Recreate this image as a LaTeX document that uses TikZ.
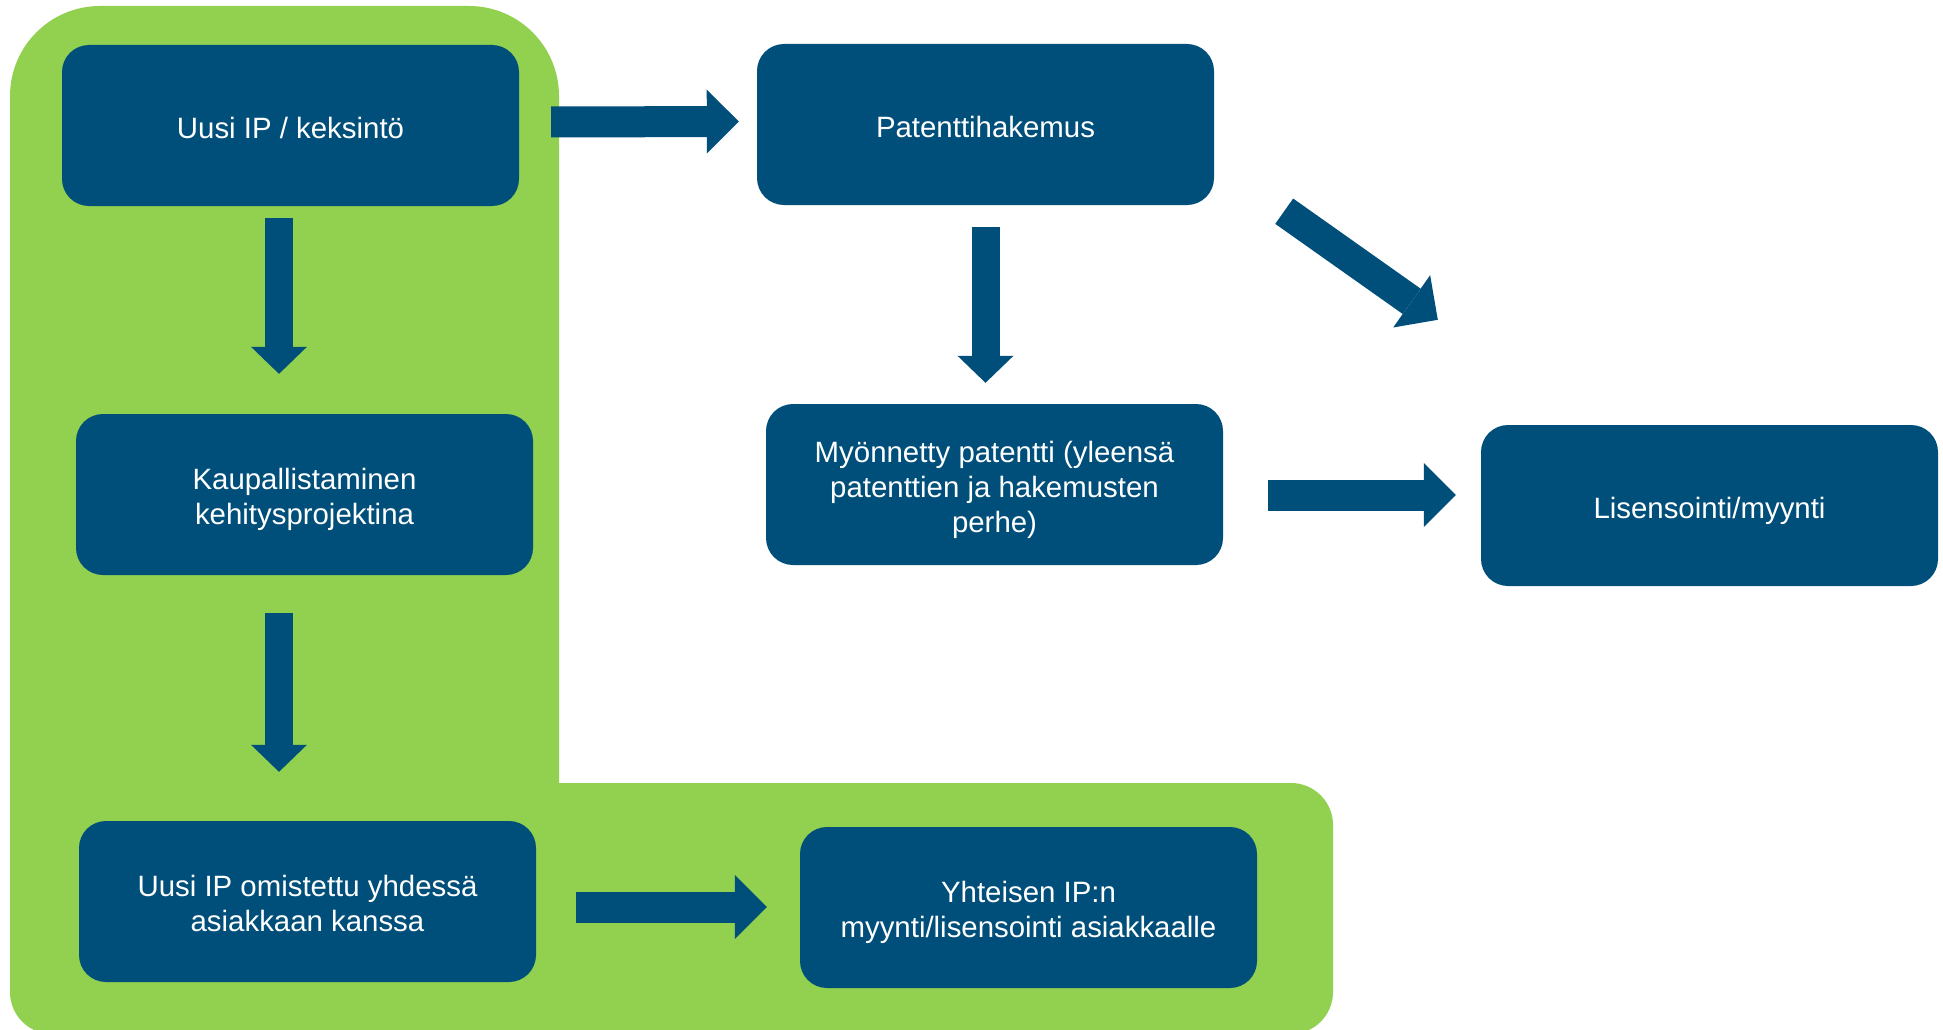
\documentclass[tikz,border=0pt]{standalone}
\usepackage{fontspec}
\setmainfont{Liberation Sans}
\usetikzlibrary{arrows.meta,calc}
\definecolor{leafgreen}{RGB}{146,208,80}
\definecolor{deepblue}{RGB}{0,79,122}
% fixed line heights so every label sits at the same optical level
\newcommand\firstlinestrut{\rule[-8pt]{0pt}{41.4pt}}
\newcommand\lastlinestrut{\rule[-8pt]{0pt}{8pt}}
\begin{document}
\begin{tikzpicture}[x=1pt,y=-1pt,
  stage/.style={fill=deepblue, text=white, rounded corners=27pt,
    minimum width=457pt, minimum height=161pt, align=center, inner sep=0pt,
    font=\fontsize{29.4}{35}\selectfont},
  flatarrow/.style={draw=deepblue, line width=31pt,
    -{Triangle[length=32pt,width=64pt,line width=0pt]}},
  droparrow/.style={draw=deepblue, line width=28pt,
    -{Triangle[length=27pt,width=56pt,line width=0pt]}},
]
\useasboundingbox (0,0) rectangle (1943,1030);
\clip (0,0) rectangle (1943,1030);

% green L-shaped background: tall column plus a wide foot
\fill[leafgreen, rounded corners=90pt] (10,6) rectangle (559,1034);
\fill[leafgreen, rounded corners=42pt] (10,783) rectangle (1333,1034);

% process stages
\node[stage] (b1) at (290.5,125.5) {\firstlinestrut Uusi IP / keksintö};
\node[stage] (b2) at (985.5,124.5) {\firstlinestrut Patenttihakemus};
\node[stage] (b3) at (304.5,494.5) {\firstlinestrut Kaupallistaminen\\kehitysprojektina\lastlinestrut};
\node[stage] (b4) at (994.5,484.5) {\firstlinestrut Myönnetty patentti (yleensä\\patenttien ja hakemusten\\perhe)\lastlinestrut};
\node[stage] (b5) at (1709.5,505.5) {\firstlinestrut Lisensointi/myynti};
\node[stage] (b6) at (307.5,901.5) {\firstlinestrut Uusi IP omistettu yhdessä\\asiakkaan kanssa\lastlinestrut};
\node[stage] (b7) at (1028.5,907.5) {\firstlinestrut Yhteisen IP:n\\myynti/lisensointi asiakkaalle\lastlinestrut};

% block arrows between stages
\draw[flatarrow] ($(b1.east)+(32,-3.5)$) -- ($(b2.west)+(-18,-3)$);
\draw[droparrow] ($(b1.south)+(-11.5,12)$) -- ($(b3.north)+(-25.5,-40)$);
\draw[droparrow] ($(b2.south)+(0,22)$) -- ($(b4.north)+(-9,-21)$);
\draw[flatarrow] ($(b2.south east)+(70,6)$) -- ($(b5.north west)+(-43,-105)$);
\draw[flatarrow] ($(b4.east)+(45,10.5)$) -- ($(b5.west)+(-25,-10.5)$);
\draw[droparrow] ($(b3.south)+(-25.5,38)$) -- ($(b6.north)+(-28.5,-49)$);
\draw[flatarrow] ($(b6.east)+(40,5.5)$) -- ($(b7.west)+(-33,-0.5)$);
\end{tikzpicture}
\end{document}
